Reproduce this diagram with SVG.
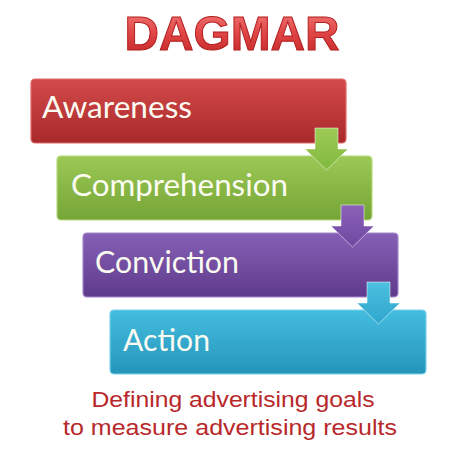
<svg xmlns="http://www.w3.org/2000/svg" width="451" height="458" viewBox="0 0 451 458">
<defs>
<linearGradient id="gRed" x1="0" y1="0" x2="0" y2="1"><stop offset="0" stop-color="#d44a4a"/><stop offset="1" stop-color="#a8292b"/></linearGradient>
<linearGradient id="gGreen" x1="0" y1="0" x2="0" y2="1"><stop offset="0" stop-color="#9cc955"/><stop offset="1" stop-color="#75a537"/></linearGradient>
<linearGradient id="gPurple" x1="0" y1="0" x2="0" y2="1"><stop offset="0" stop-color="#8660b5"/><stop offset="1" stop-color="#5f3b8c"/></linearGradient>
<linearGradient id="gBlue" x1="0" y1="0" x2="0" y2="1"><stop offset="0" stop-color="#44bddf"/><stop offset="1" stop-color="#2595ba"/></linearGradient>
<linearGradient id="gTitle" x1="0" y1="0" x2="0" y2="1"><stop offset="0" stop-color="#f58080"/><stop offset="0.5" stop-color="#e04646"/><stop offset="1" stop-color="#c02424"/></linearGradient>
<linearGradient id="aGreen" x1="0" y1="0" x2="0" y2="1"><stop offset="0" stop-color="#9ccb55"/><stop offset="1" stop-color="#82b83e"/></linearGradient>
<linearGradient id="aPurple" x1="0" y1="0" x2="0" y2="1"><stop offset="0" stop-color="#8a62b8"/><stop offset="1" stop-color="#6f48a0"/></linearGradient>
<linearGradient id="aBlue" x1="0" y1="0" x2="0" y2="1"><stop offset="0" stop-color="#4cc0e0"/><stop offset="1" stop-color="#2ea6cc"/></linearGradient>
</defs>
<style>
.box{stroke-width:1.2;}
.lbl{font-family:Lato,"Open Sans","Liberation Sans",sans-serif;font-size:30px;fill:#fbfbf2;}
.cap{font-family:"Liberation Sans",Arial,sans-serif;font-size:22px;fill:#b8282a;text-anchor:middle;}
.arr{stroke:#ffffff;stroke-opacity:0.5;stroke-width:1;}
</style>
<rect width="451" height="458" fill="#ffffff"/>
<g id="title">
<text x="232" y="50" text-anchor="middle" font-family="'Liberation Sans',Arial,sans-serif" font-weight="bold" font-size="49" textLength="215" lengthAdjust="spacingAndGlyphs" fill="url(#gTitle)" stroke="#b21c1c" stroke-width="1">DAGMAR</text>
</g>
<g id="awareness">
<rect class="box" x="31" y="79" width="315" height="64" rx="4" fill="url(#gRed)" stroke="#e06a6a"/>
<text class="lbl" x="42" y="118" textLength="150" lengthAdjust="spacingAndGlyphs">Awareness</text>
</g>
<g id="comprehension">
<rect class="box" x="57" y="156" width="315" height="64" rx="4" fill="url(#gGreen)" stroke="#b5db7c"/>
<text class="lbl" x="71" y="196" textLength="217" lengthAdjust="spacingAndGlyphs">Comprehension</text>
</g>
<g id="conviction">
<rect class="box" x="83" y="233" width="315" height="64" rx="4" fill="url(#gPurple)" stroke="#a486cc"/>
<text class="lbl" x="95" y="273" textLength="144" lengthAdjust="spacingAndGlyphs">Conviction</text>
</g>
<g id="action">
<rect class="box" x="110" y="310" width="316" height="64" rx="4" fill="url(#gBlue)" stroke="#7cd3ec"/>
<text class="lbl" x="123" y="351" textLength="87" lengthAdjust="spacingAndGlyphs">Action</text>
</g>
<g id="connectors">
<path class="arr" d="M315,128 H338 V149 H348 L326.5,170 L305,149 H315 Z" fill="url(#aGreen)"/>
<path class="arr" d="M341,205 H364 V226 H374 L352.5,247 L331,226 H341 Z" fill="url(#aPurple)"/>
<path class="arr" d="M367,282 H390 V303 H400 L378.5,324 L357,303 H367 Z" fill="url(#aBlue)"/>
</g>
<g id="caption">
<text class="cap" x="233" y="407" textLength="283" lengthAdjust="spacingAndGlyphs">Defining advertising goals</text>
<text class="cap" x="230" y="435" textLength="334" lengthAdjust="spacingAndGlyphs">to measure advertising results</text>
</g>
</svg>
